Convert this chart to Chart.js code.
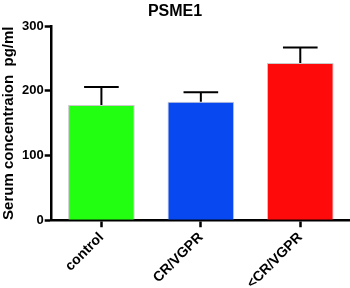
<!DOCTYPE html>
<html>
<head>
<meta charset="utf-8">
<script src="https://cdn.jsdelivr.net/npm/chart.js@4"></script>
<style>
	html, body { margin: 0; padding: 0; background: #fff; }
	#wrap { width: 350px; height: 288px; }
</style>
</head>
<body>
<div id="wrap"><canvas id="psme1"></canvas></div>
<script>
const categories = ["control", "CR/VGPR", "<CR/VGPR"];
const means = [178, 183, 243];
const sem = [28, 15, 24];
const barColors = ["#22ff10", "#0848f0", "#fe0a0a"];
const yTicks = [0, 100, 200, 300];

const FONT = "'Liberation Sans', Arial, Helvetica, sans-serif";

// draws the upper half of each error bar (mean -> mean + sem) with a cap
const errorBars = {
	id: "errorBars",
	afterDatasetsDraw(chart) {
		const { ctx, scales: { y } } = chart;
		const meta = chart.getDatasetMeta(0);
		ctx.save();
		ctx.strokeStyle = "#000";
		ctx.lineWidth = 2;
		meta.data.forEach((bar, i) => {
			const top = y.getPixelForValue(means[i] + sem[i]);
			const half = bar.width * 0.26;
			ctx.beginPath();
			ctx.moveTo(bar.x, bar.y);
			ctx.lineTo(bar.x, top);
			ctx.moveTo(bar.x - half, top);
			ctx.lineTo(bar.x + half, top);
			ctx.stroke();
		});
		ctx.restore();
	},
};

new Chart(document.getElementById("psme1"), {
	type: "bar",
	data: {
		labels: categories,
		datasets: [
			{
				data: means,
				backgroundColor: barColors,
				borderColor: "rgba(150,150,150,0.5)",
				borderWidth: 1,
				barPercentage: 0.67,
				categoryPercentage: 1,
			},
		],
	},
	options: {
		responsive: true,
		maintainAspectRatio: false,
		animation: false,
		layout: { padding: { left: 0, right: 0, top: 0, bottom: -6 } },
		scales: {
			x: {
				grid: {
					offset: false,
					drawOnChartArea: false,
					drawTicks: true,
					tickLength: 7,
					tickWidth: 2.5,
					tickColor: "#000",
				},
				border: { color: "#000", width: 2.5 },
				ticks: {
					color: "#000",
					minRotation: 45,
					maxRotation: 45,
					padding: 2,
					font: { family: FONT, size: 14, weight: "bold" },
				},
			},
			y: {
				min: 0,
				max: 300,
				afterBuildTicks: (scale) => {
					scale.ticks = yTicks.map((v) => ({ value: v }));
				},
				grid: {
					drawOnChartArea: false,
					drawTicks: true,
					tickLength: 7,
					tickWidth: 2.5,
					tickColor: "#000",
				},
				border: { color: "#000", width: 2.5 },
				ticks: {
					color: "#000",
					padding: 1,
					font: { family: FONT, size: 13, weight: "bold" },
				},
				title: {
					display: true,
					text: "Serum concentraion  pg/ml",
					color: "#000",
					padding: { top: 0, bottom: 3 },
					font: { family: FONT, size: 15, weight: "bold" },
				},
			},
		},
		plugins: {
			legend: { display: false },
			tooltip: { enabled: false },
			title: {
				display: true,
				text: "PSME1",
				color: "#000",
				padding: { top: 2, bottom: 5 },
				font: { family: FONT, size: 16, weight: "bold" },
			},
		},
	},
	plugins: [errorBars],
});
</script>
</body>
</html>
